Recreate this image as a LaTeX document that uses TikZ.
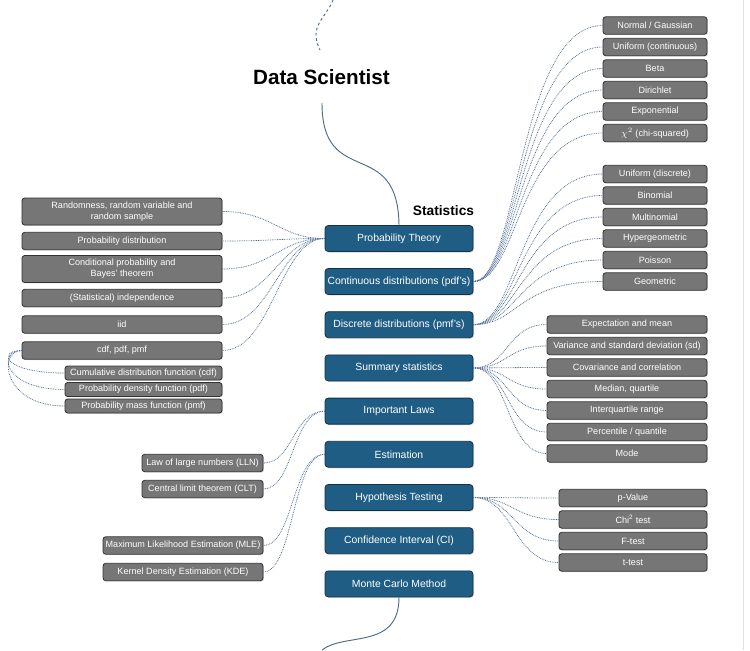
\documentclass[tikz,border=0pt]{standalone}
\usepackage{fontspec}
\setmainfont{Liberation Sans}
\usepackage{xcolor}
\usetikzlibrary{shadows}

\definecolor{boxblue}{RGB}{31,93,133}
\definecolor{boxblueline}{RGB}{18,50,72}
\definecolor{boxgrey}{RGB}{118,118,118}
\definecolor{boxgreyline}{RGB}{50,50,50}
\definecolor{linkblue}{RGB}{85,112,150}
\definecolor{stemblue}{RGB}{78,108,130}

\tikzset{
  bluebox/.style={draw=boxblueline, fill=boxblue, text=white, rounded corners=2.5pt,
    line width=0.6pt, minimum width=111pt, minimum height=19.5pt, inner sep=0pt,
    font=\fontsize{7.8}{9}\selectfont,
    drop shadow={shadow xshift=0.8pt, shadow yshift=-0.8pt, opacity=0.3}},
  greybox/.style={draw=boxgreyline, fill=boxgrey, text=white, rounded corners=2pt,
    line width=0.6pt, minimum height=13pt, inner sep=0pt, align=center,
    font=\fontsize{6.8}{8.4}\selectfont,
    drop shadow={shadow xshift=0.7pt, shadow yshift=-0.7pt, opacity=0.3}},
  dotlink/.style={linkblue, line width=0.6pt, dash pattern=on 0.6pt off 0.7pt},
  stem/.style={stemblue, line width=0.7pt},
}

\begin{document}
\begin{tikzpicture}[x=0.75pt,y=0.75pt,yscale=-1,xscale=1]
\useasboundingbox (0,0) rectangle (750,650);

%Straight Lines: right edge
\draw [black!12, line width=0.6pt] (743,0) -- (743,650);

% Title Nodes
\node [font=\bfseries\fontsize{15.5}{18}\selectfont] (dstitle) at (321.5,77) {Data Scientist};
\node [font=\bfseries\fontsize{10.3}{12}\selectfont] (stattitle) at (443.5,211) {Statistics};

% Blue Nodes
\node [bluebox] (probth) at (399,238.5) {Probability Theory};
\node [bluebox] (contd) at (399,281.5) {Continuous distributions (pdf's)};
\node [bluebox] (discd) at (399,324.7) {Discrete distributions (pmf's)};
\node [bluebox] (summ) at (399,367.9) {Summary statistics};
\node [bluebox] (laws) at (399,411.1) {Important Laws};
\node [bluebox] (estim) at (399,454.3) {Estimation};
\node [bluebox] (hypo) at (399,497.5) {Hypothesis Testing};
\node [bluebox] (confi) at (399,540.7) {Confidence Interval (CI)};
\node [bluebox] (monte) at (399,583.9) {Monte Carlo Method};

% Grey Nodes: probability theory
\node [greybox, minimum width=150pt, minimum height=20.25pt] (rand) at (122,211.5) {Randomness, random variable and\\random sample};
\node [greybox, minimum width=150pt] (pdist) at (122,241) {Probability distribution};
\node [greybox, minimum width=150pt, minimum height=20.25pt] (condp) at (122,269) {Conditional probability and\\Bayes' theorem};
\node [greybox, minimum width=150pt] (indep) at (122,298) {(Statistical) independence};
\node [greybox, minimum width=150pt] (iid) at (122,324.5) {iid};
\node [greybox, minimum width=150pt] (cdfs) at (122,350.5) {cdf, pdf, pmf};
\node [greybox, minimum width=117.75pt, minimum height=10.5pt] (cdf) at (143.5,373) {Cumulative distribution function (cdf)};
\node [greybox, minimum width=117.75pt, minimum height=10.5pt] (pdf) at (143.5,389.5) {Probability density function (pdf)};
\node [greybox, minimum width=117.75pt, minimum height=10.5pt] (pmf) at (143.5,406) {Probability mass function (pmf)};

% Grey Nodes: continuous distributions
\node [greybox, minimum width=78pt] (normal) at (655,25.5) {Normal / Gaussian};
\node [greybox, minimum width=78pt] (unifc) at (655,47) {Uniform (continuous)};
\node [greybox, minimum width=78pt] (beta) at (655,68.5) {Beta};
\node [greybox, minimum width=78pt] (dirich) at (655,90) {Dirichlet};
\node [greybox, minimum width=78pt] (expo) at (655,111.5) {Exponential};
\node [greybox, minimum width=78pt] (chisq) at (655,133) {$\chi^2$ (chi-squared)};

% Grey Nodes: discrete distributions
\node [greybox, minimum width=78pt] (unifd) at (655,174) {Uniform (discrete)};
\node [greybox, minimum width=78pt] (binom) at (655,195.5) {Binomial};
\node [greybox, minimum width=78pt] (multi) at (655,217) {Multinomial};
\node [greybox, minimum width=78pt] (hyper) at (655,238.5) {Hypergeometric};
\node [greybox, minimum width=78pt] (poiss) at (655,260) {Poisson};
\node [greybox, minimum width=78pt] (geom) at (655,281.5) {Geometric};

% Grey Nodes: summary statistics
\node [greybox, minimum width=120pt] (expec) at (627,324.5) {Expectation and mean};
\node [greybox, minimum width=120pt] (varsd) at (627,346) {Variance and standard deviation (sd)};
\node [greybox, minimum width=120pt] (covar) at (627,367.5) {Covariance and correlation};
\node [greybox, minimum width=120pt] (median) at (627,389) {Median, quartile};
\node [greybox, minimum width=120pt] (iqr) at (627,410.5) {Interquartile range};
\node [greybox, minimum width=120pt] (pctl) at (627,432) {Percentile / quantile};
\node [greybox, minimum width=120pt] (mode) at (627,453.5) {Mode};

% Grey Nodes: important laws, estimation
\node [greybox, minimum width=90.75pt] (lln) at (202.5,463) {Law of large numbers (LLN)};
\node [greybox, minimum width=90.75pt] (clt) at (202.5,489) {Central limit theorem (CLT)};
\node [greybox, minimum width=120pt] (mle) at (183,545.5) {Maximum Likelihood Estimation (MLE)};
\node [greybox, minimum width=120pt] (kde) at (183,572) {Kernel Density Estimation (KDE)};

% Grey Nodes: hypothesis testing
\node [greybox, minimum width=111pt] (pval) at (633,498) {p-Value};
\node [greybox, minimum width=111pt] (chitest) at (633,519.5) {Chi\textsuperscript{2} test};
\node [greybox, minimum width=111pt] (ftest) at (633,541) {F-test};
\node [greybox, minimum width=111pt] (ttest) at (633,562.5) {t-test};

% Stems
\coordinate (topin) at (333,0);
\coordinate (topout) at (320,50);
\coordinate (dsstem) at (322,103);
\coordinate (botout) at (322,650);
\draw [stem, dashed, dash pattern=on 2pt off 2pt] (topin) .. controls (326,18) and (308,26) .. (topout);
\draw [stem] (dsstem) .. controls (322,190) and (398,135) .. (probth.north);
\draw [stem] (monte.south) .. controls (399,650) and (345,632) .. (botout);

% Dotted Lines: probability theory
\draw [dotlink] (probth.west) .. controls +(-45,0) and +(50,0) .. (rand.east);
\draw [dotlink] (probth.west) .. controls +(-45,0) and +(50,0) .. (pdist.east);
\draw [dotlink] (probth.west) .. controls +(-45,0) and +(50,0) .. (condp.east);
\draw [dotlink] (probth.west) .. controls +(-45,0) and +(50,0) .. (indep.east);
\draw [dotlink] (probth.west) .. controls +(-45,0) and +(50,0) .. (iid.east);
\draw [dotlink] (probth.west) .. controls +(-45,0) and +(50,0) .. (cdfs.east);
\draw [dotlink] (cdfs.west) .. controls +(-24,0) and +(-62,0) .. (cdf.west);
\draw [dotlink] (cdfs.west) .. controls +(-24,0) and +(-62,0) .. (pdf.west);
\draw [dotlink] (cdfs.west) .. controls +(-24,0) and +(-62,0) .. (pmf.west);

% Dotted Lines: continuous distributions
\draw [dotlink] (contd.east) .. controls +(45,0) and +(-85,0) .. (normal.west);
\draw [dotlink] (contd.east) .. controls +(45,0) and +(-85,0) .. (unifc.west);
\draw [dotlink] (contd.east) .. controls +(45,0) and +(-85,0) .. (beta.west);
\draw [dotlink] (contd.east) .. controls +(45,0) and +(-85,0) .. (dirich.west);
\draw [dotlink] (contd.east) .. controls +(45,0) and +(-85,0) .. (expo.west);
\draw [dotlink] (contd.east) .. controls +(45,0) and +(-85,0) .. (chisq.west);

% Dotted Lines: discrete distributions
\draw [dotlink] (discd.east) .. controls +(45,0) and +(-85,0) .. (unifd.west);
\draw [dotlink] (discd.east) .. controls +(45,0) and +(-85,0) .. (binom.west);
\draw [dotlink] (discd.east) .. controls +(45,0) and +(-85,0) .. (multi.west);
\draw [dotlink] (discd.east) .. controls +(45,0) and +(-85,0) .. (hyper.west);
\draw [dotlink] (discd.east) .. controls +(45,0) and +(-85,0) .. (poiss.west);
\draw [dotlink] (discd.east) .. controls +(45,0) and +(-85,0) .. (geom.west);

% Dotted Lines: summary statistics
\draw [dotlink] (summ.east) .. controls +(35,0) and +(-40,0) .. (expec.west);
\draw [dotlink] (summ.east) .. controls +(35,0) and +(-40,0) .. (varsd.west);
\draw [dotlink] (summ.east) .. controls +(35,0) and +(-40,0) .. (covar.west);
\draw [dotlink] (summ.east) .. controls +(35,0) and +(-40,0) .. (median.west);
\draw [dotlink] (summ.east) .. controls +(35,0) and +(-40,0) .. (iqr.west);
\draw [dotlink] (summ.east) .. controls +(35,0) and +(-40,0) .. (pctl.west);
\draw [dotlink] (summ.east) .. controls +(35,0) and +(-40,0) .. (mode.west);

% Dotted Lines: important laws, estimation
\draw [dotlink] (laws.west) .. controls +(-32,0) and +(30,0) .. (lln.east);
\draw [dotlink] (laws.west) .. controls +(-32,0) and +(30,0) .. (clt.east);
\draw [dotlink] (estim.west) .. controls +(-32,0) and +(30,0) .. (mle.east);
\draw [dotlink] (estim.west) .. controls +(-32,0) and +(30,0) .. (kde.east);

% Dotted Lines: hypothesis testing
\draw [dotlink] (hypo.east) .. controls +(40,0) and +(-45,0) .. (pval.west);
\draw [dotlink] (hypo.east) .. controls +(40,0) and +(-45,0) .. (chitest.west);
\draw [dotlink] (hypo.east) .. controls +(40,0) and +(-45,0) .. (ftest.west);
\draw [dotlink] (hypo.east) .. controls +(40,0) and +(-45,0) .. (ttest.west);

\end{tikzpicture}
\end{document}
